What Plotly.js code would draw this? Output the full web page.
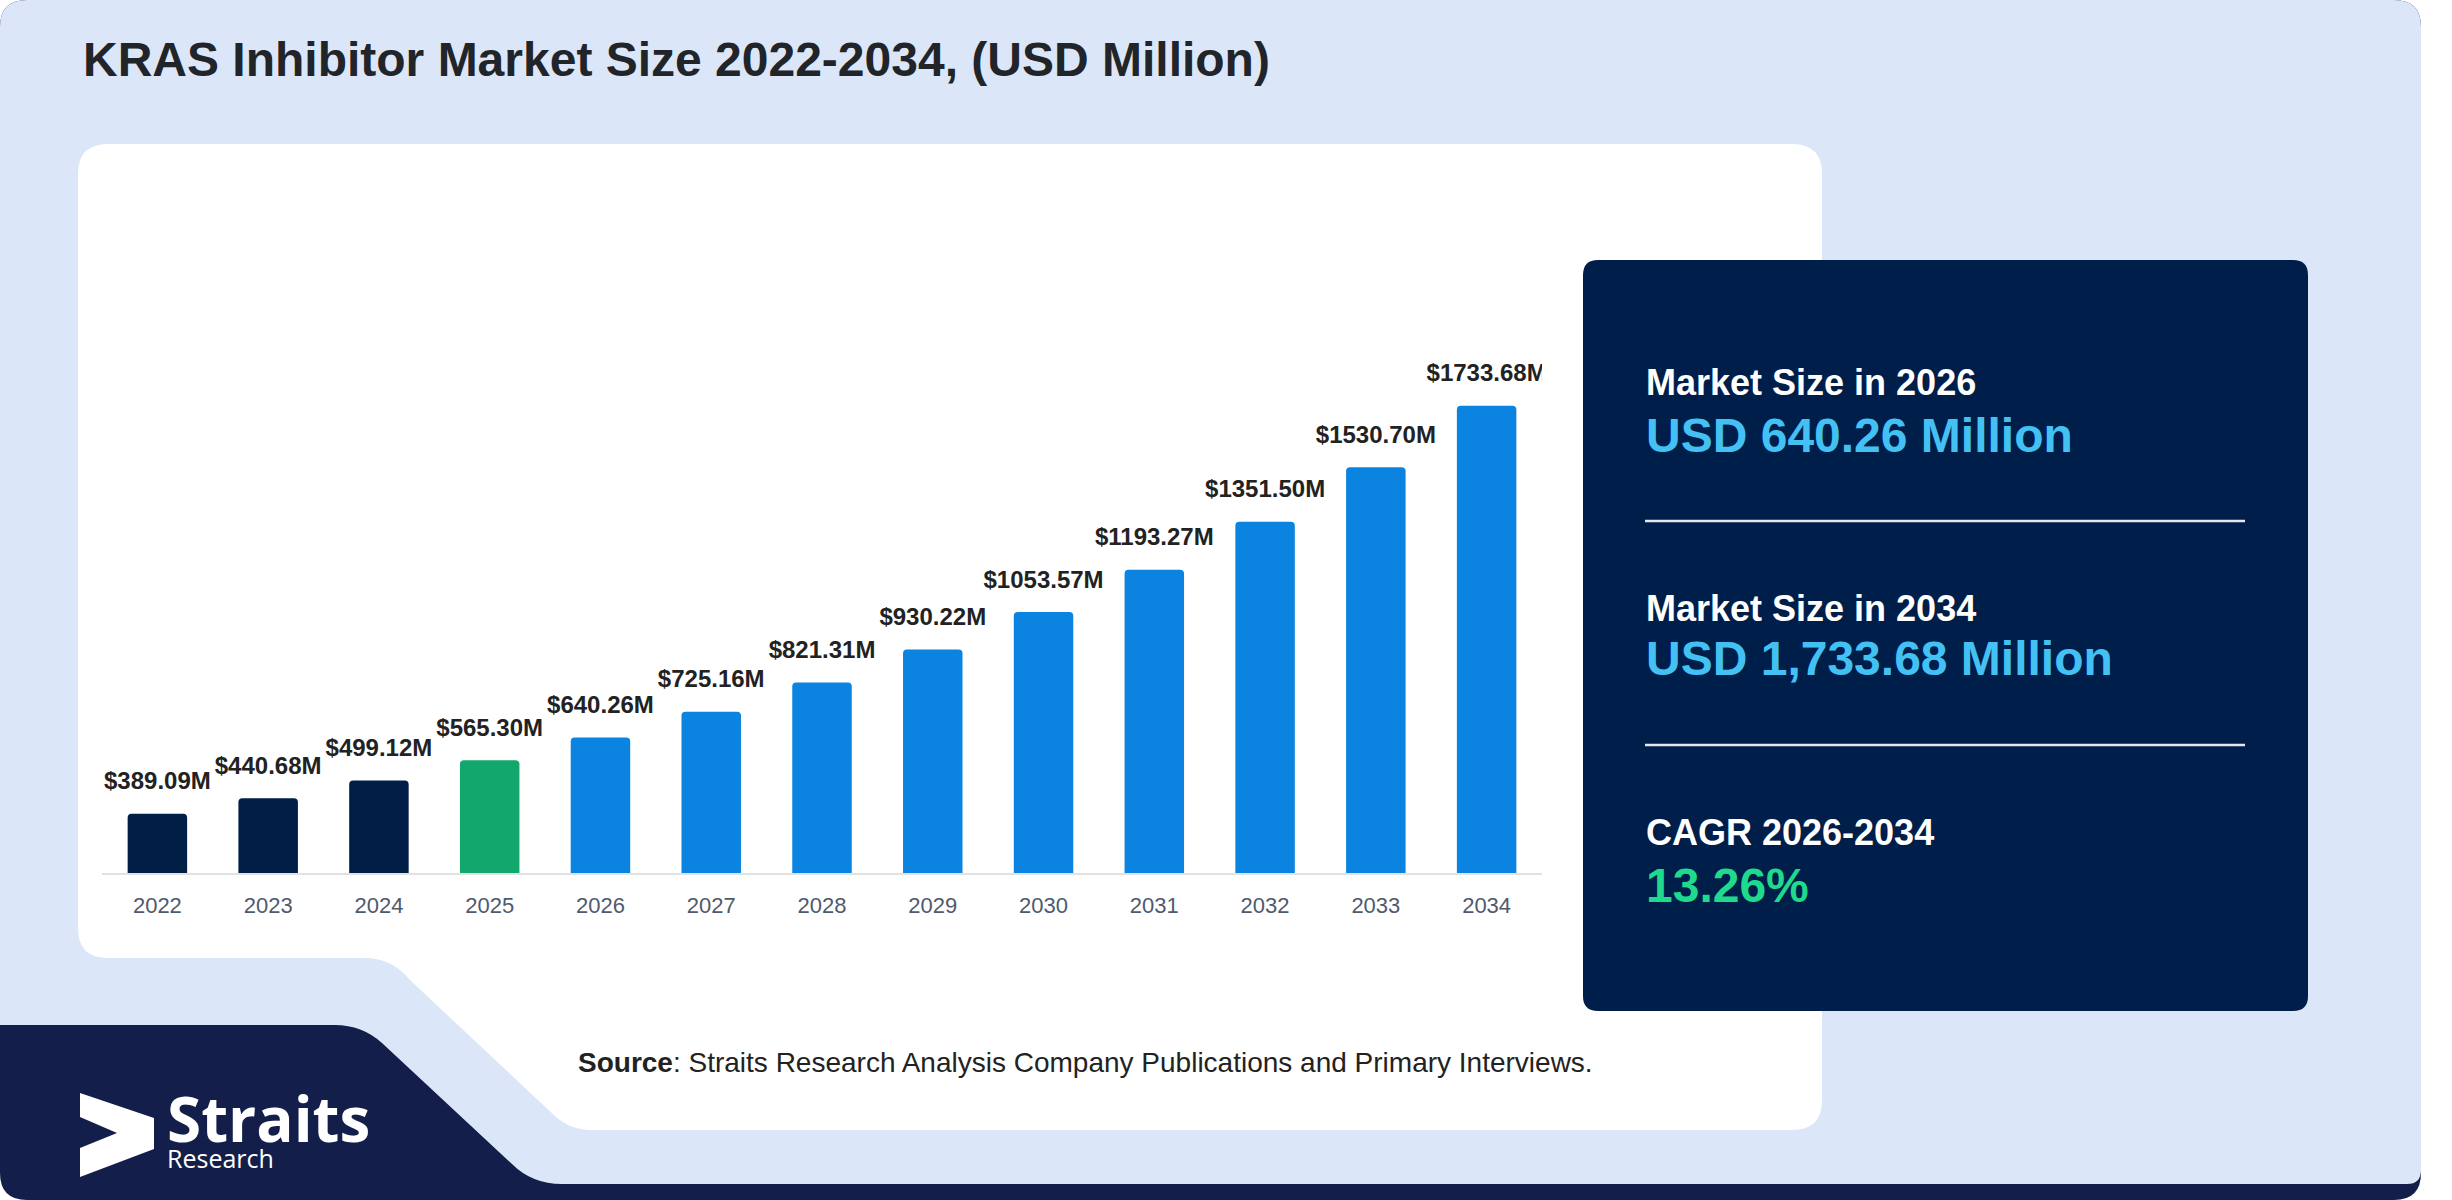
<!DOCTYPE html>
<html>
<head>
<meta charset="utf-8">
<script src="https://cdn.plot.ly/plotly-3.0.1.min.js"></script>
<style>
  html, body { margin: 0; padding: 0; background: #ffffff; overflow: hidden; }
  #chart { width: 2452px; height: 1200px; }
</style>
</head>
<body>
<div id="chart"></div>
<script>
// ---------- data ----------
const years = ['2022','2023','2024','2025','2026','2027','2028','2029','2030','2031','2032','2033','2034'];
const marketSize = [389.09, 440.68, 499.12, 565.30, 640.26, 725.16, 821.31, 930.22, 1053.57, 1193.27, 1351.50, 1530.70, 1733.68];
const baseYear = '2025';
const chartTitle = 'KRAS Inhibitor Market Size 2022-2034, (USD Million)';
const panelItems = [
  { label: 'Market Size in 2026', value: 'USD 640.26 Million', color: '#43c1f3' },
  { label: 'Market Size in 2034', value: 'USD 1,733.68 Million', color: '#43c1f3' },
  { label: 'CAGR 2026-2034', value: '13.26%', color: '#1fd98c' }
];
const sourceText = '<b>Source</b>: Straits Research Analysis Company Publications and Primary Interviews.';
const logoName = 'Straits';
const logoSub = 'Research';

// ---------- helpers ----------
const W = 2452, H = 1200;
const px = x => x / W;
const py = y => 1 - y / H;
function path(segs) {
  return segs.map(s => {
    const c = s[0];
    if (c === 'Z') return 'Z';
    const out = [c];
    for (let i = 1; i < s.length; i += 2) out.push(px(s[i]).toFixed(6) + ',' + py(s[i + 1]).toFixed(6));
    return out.join(' ');
  }).join(' ');
}
function roundRect(x0, y0, x1, y1, r) {
  return path([
    ['M', x0 + r, y0], ['L', x1 - r, y0], ['Q', x1, y0, x1, y0 + r],
    ['L', x1, y1 - r], ['Q', x1, y1, x1 - r, y1],
    ['L', x0 + r, y1], ['Q', x0, y1, x0, y1 - r],
    ['L', x0, y0 + r], ['Q', x0, y0, x0 + r, y0], ['Z']
  ]);
}
function shape(p, fill) {
  return { type: 'path', xref: 'paper', yref: 'paper', path: p, fillcolor: fill, line: { width: 0 }, layer: 'below' };
}
function colorFor(y) {
  if (y < baseYear) return '#011e47';
  if (y === baseYear) return '#12a86d';
  return '#0a84e0';
}

const FONT = 'Liberation Sans, Arial, Helvetica, sans-serif';
const LOGOFONT = 'Open Sans, Noto Sans, sans-serif';

// ---------- traces ----------
const bars = {
  type: 'bar',
  x: years,
  y: marketSize,
  base: 0,
  marker: { color: years.map(colorFor), cornerradius: 4, line: { width: 0 } },
  hoverinfo: 'skip',
  showlegend: false
};
const labels = {
  type: 'scatter',
  mode: 'markers+text',
  x: years,
  y: marketSize,
  text: marketSize.map(v => '$' + v.toFixed(2) + 'M'),
  textposition: 'top center',
  textfont: { family: FONT, size: 24, color: '#222222', weight: 'bold' },
  marker: { size: 28, opacity: 0 },
  cliponaxis: true,
  hoverinfo: 'skip',
  showlegend: false
};

// ---------- decorative shapes ----------
const shapes = [
  shape(roundRect(0, 0, 2421, 1200, 27), '#131f4a'),
  shape(path([
    ['M', 27, 0], ['L', 2394, 0], ['Q', 2421, 0, 2421, 27],
    ['L', 2421, 1170], ['Q', 2421, 1184, 2407, 1184],
    ['L', 562, 1184], ['Q', 532, 1184, 512, 1164],
    ['L', 382, 1043], ['Q', 362, 1025, 335, 1025],
    ['L', 0, 1025], ['L', 0, 27], ['Q', 0, 0, 27, 0], ['Z']
  ]), '#dbe7f8'),
  shape(path([
    ['M', 108, 144], ['L', 1792, 144], ['Q', 1822, 144, 1822, 174],
    ['L', 1822, 1100], ['Q', 1822, 1130, 1792, 1130],
    ['L', 592, 1130], ['Q', 570, 1130, 555, 1116],
    ['L', 410, 980], ['Q', 392, 958, 365, 958],
    ['L', 108, 958], ['Q', 78, 958, 78, 928],
    ['L', 78, 174], ['Q', 78, 144, 108, 144], ['Z']
  ]), '#ffffff'),
  shape(roundRect(1583, 260, 2308, 1011, 15), '#001e4a'),
  // logo mark
  shape(path([
    ['M', 80, 1093], ['L', 154, 1118], ['L', 154, 1149], ['L', 80, 1177],
    ['L', 80, 1148], ['L', 117, 1133], ['L', 80, 1117], ['Z']
  ]), '#ffffff'),
  // panel separators
  { type: 'line', xref: 'paper', yref: 'paper', x0: px(1645), x1: px(2245), y0: py(521), y1: py(521), line: { color: '#e4e8ef', width: 2.5 } },
  { type: 'line', xref: 'paper', yref: 'paper', x0: px(1645), x1: px(2245), y0: py(745), y1: py(745), line: { color: '#e4e8ef', width: 2.5 } }
];

// ---------- annotations ----------
function txt(text, x, yCenter, size, color, bold, family) {
  return {
    xref: 'paper', yref: 'paper', x: px(x), y: py(yCenter), xanchor: 'left', yanchor: 'middle',
    text: bold ? '<b>' + text + '</b>' : text, showarrow: false,
    font: { family: family || FONT, size: size, color: color }, align: 'left'
  };
}
const annotations = [
  txt(chartTitle, 81, 59, 48, '#212529', true),
  txt(sourceText, 576, 1062, 28, '#222222', false),
  {
    xref: 'paper', yref: 'paper', x: px(165), y: py(1074), xanchor: 'left', yanchor: 'top',
    text: '<span style="font-size:62px;font-weight:bold">' + logoName + '</span><br><span style="font-size:25px">' + logoSub + '</span>',
    showarrow: false, align: 'left',
    font: { family: LOGOFONT, size: 20, color: '#ffffff' }
  }
];
const labelBase = [382, 608, 832];
const valueBase = [435, 658, 885];
panelItems.forEach((it, i) => {
  annotations.push(txt(it.label, 1644, labelBase[i], 36, '#ffffff', true));
  annotations.push(txt(it.value, 1644, valueBase[i], 48, it.color, true));
});

// ---------- layout ----------
const layout = {
  width: W, height: H,
  margin: { l: 0, r: 0, t: 0, b: 0, pad: 0 },
  paper_bgcolor: '#ffffff',
  plot_bgcolor: 'rgba(0,0,0,0)',
  showlegend: false,
  bargap: 0.463,
  xaxis: {
    domain: [px(102), px(1542)],
    type: 'category',
    range: [-0.5, years.length - 0.5],
    showline: true, linecolor: '#e2e2e2', linewidth: 2,
    showgrid: false, zeroline: false, ticks: '',
    tickfont: { family: FONT, size: 22, color: '#4f5a6e' },
    ticklabelstandoff: 12,
    fixedrange: true
  },
  yaxis: {
    domain: [py(873), py(300)],
    range: [194, 2082],
    visible: false,
    showgrid: false, zeroline: false,
    fixedrange: true
  },
  shapes: shapes,
  annotations: annotations
};

Plotly.newPlot('chart', [bars, labels], layout, { displayModeBar: false, staticPlot: true });
</script>
</body>
</html>
